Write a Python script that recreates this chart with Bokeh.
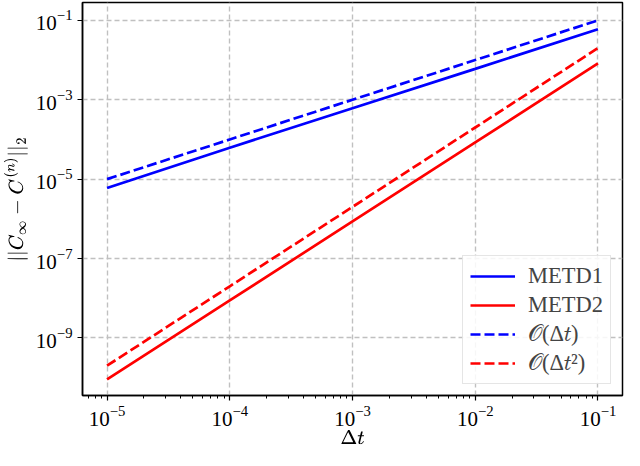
from bokeh.plotting import figure
from bokeh.models import Range1d, FixedTicker, LogTickFormatter, Legend, LegendItem
from bokeh.embed import file_html
from bokeh.resources import INLINE

# data
dt = [1e-5, 1e-4, 1e-3, 1e-2, 1e-1]
metd1 = [6.0e-6, 6.2e-5, 6.1e-4, 6.0e-3, 6.0e-2]
metd2 = [9.0e-11, 8.8e-9, 8.6e-7, 8.4e-5, 8.2e-3]
order1 = [1e-5, 1e-4, 1e-3, 1e-2, 1e-1]
order2 = [2e-10, 2e-8, 2e-6, 2e-4, 2e-2]

x_ticks = [1e-5, 1e-4, 1e-3, 1e-2, 1e-1]
y_ticks = [1e-9, 1e-7, 1e-5, 1e-3, 1e-1]

x_minor = [m * d for d in [1e-6, 1e-5, 1e-4, 1e-3, 1e-2, 1e-1] for m in range(1, 10)]

FONT = "Liberation Serif"

p = figure(width=624, height=450, output_backend="svg", toolbar_location=None,
           x_axis_type="log", y_axis_type="log",
           x_range=Range1d(10 ** -5.2, 10 ** -0.8),
           y_range=Range1d(10 ** -10.45, 10 ** -0.55),
           min_border_left=81, min_border_right=2, min_border_top=2, min_border_bottom=51)

p.outline_line_color = "black"
p.outline_line_width = 1.5
p.background_fill_color = "white"
p.border_fill_color = "white"

LW = 2.7
DASH = "10 4"
r1 = p.line(dt, metd1, line_color="#0000ff", line_width=LW)
r2 = p.line(dt, metd2, line_color="#ff0000", line_width=LW)
r3 = p.line(dt, order1, line_color="#0000ff", line_width=LW, line_dash=DASH)
r4 = p.line(dt, order2, line_color="#ff0000", line_width=LW, line_dash=DASH)

p.xaxis.ticker = FixedTicker(ticks=x_ticks, minor_ticks=x_minor)
p.yaxis.ticker = FixedTicker(ticks=y_ticks, minor_ticks=[])
p.xaxis.formatter = LogTickFormatter()
p.yaxis.formatter = LogTickFormatter()

for ax in (p.xaxis[0], p.yaxis[0]):
    ax.axis_line_color = "black"
    ax.axis_line_width = 1.5
    ax.major_tick_in = 0
    ax.major_tick_out = 5
    ax.minor_tick_in = 0
    ax.minor_tick_out = 3
    ax.major_tick_line_width = 1.2
    ax.minor_tick_line_width = 1
    ax.major_tick_line_color = "black"
    ax.minor_tick_line_color = "black"
    ax.major_label_text_font = FONT
    ax.major_label_text_font_size = "21px"
    ax.major_label_text_color = "black"
    ax.axis_label_text_font_size = "16.5px"
    ax.axis_label_text_font_style = "normal"
    ax.axis_label_text_color = "black"

p.xaxis.major_label_standoff = 5
p.yaxis.major_label_standoff = 5
p.xaxis.axis_label = r"$$\Delta t$$"
p.yaxis.axis_label = r"$$||C_\infty - C^{(n)}||_2$$"
p.xaxis.axis_label_standoff = 1
p.yaxis.axis_label_standoff = 5

for g in (p.xgrid[0], p.ygrid[0]):
    g.grid_line_color = "#c0c0c0"
    g.grid_line_width = 1.4
    g.grid_line_dash = "5 3"
p.xgrid.ticker = FixedTicker(ticks=x_ticks)
p.ygrid.ticker = FixedTicker(ticks=y_ticks)

legend = Legend(items=[
    LegendItem(label="METD1", renderers=[r1]),
    LegendItem(label="METD2", renderers=[r2]),
    LegendItem(label="𝒪(Δ𝑡)", renderers=[r3]),
    LegendItem(label="𝒪(Δ𝑡²)", renderers=[r4]),
], location="bottom_right")
legend.label_text_font = FONT
legend.label_text_font_size = "22.5px"
legend.glyph_width = 45
legend.glyph_height = 26
legend.label_height = 26
legend.spacing = 3
legend.padding = 7
legend.margin = 11
legend.label_standoff = 13
legend.border_line_color = "#cccccc"
legend.border_line_width = 1.2
legend.background_fill_alpha = 0.85
p.add_layout(legend)

open("out.html", "w").write(file_html(p, INLINE))
